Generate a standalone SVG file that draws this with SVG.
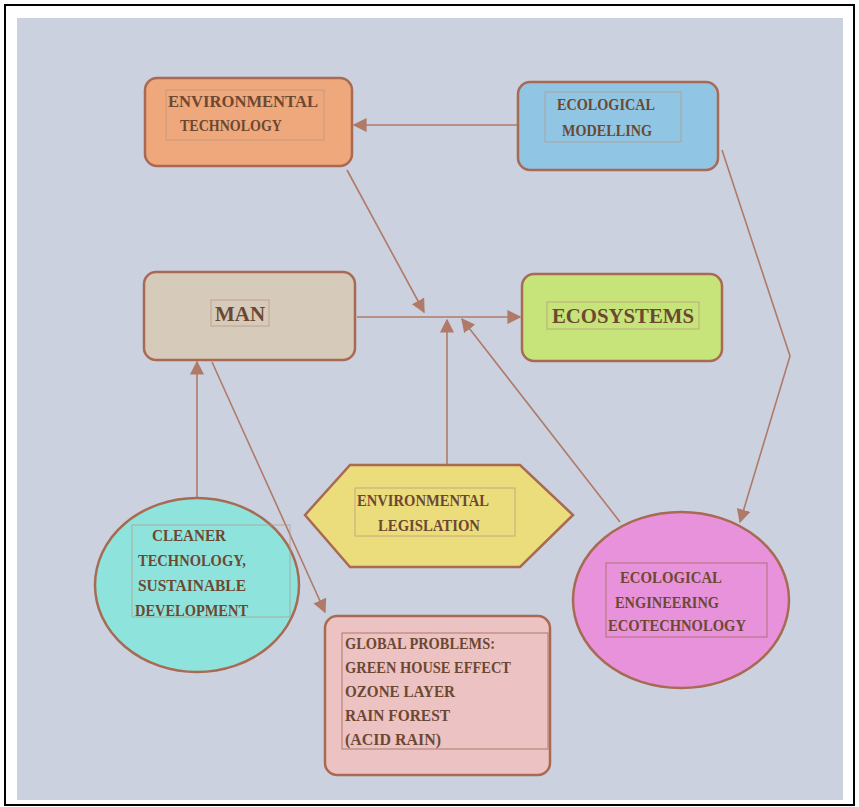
<svg xmlns="http://www.w3.org/2000/svg" width="859" height="807" viewBox="0 0 859 807">
<defs>
<marker id="ah" viewBox="0 0 10 10" refX="9" refY="5" markerWidth="14" markerHeight="14" markerUnits="userSpaceOnUse" orient="auto">
<path d="M0,0 L10,5 L0,10 z" fill="#b07a68"/>
</marker>
<style>
.bg{fill:#cbd1df}
.node{stroke:#a86a52;stroke-width:2.5}
.inner{fill:none;stroke:#b89480;stroke-width:1;opacity:0.7}
.t{font-family:"Liberation Serif","Times New Roman",serif;font-weight:bold;font-size:16px;fill:#6c4832}
.tb{font-family:"Liberation Serif","Times New Roman",serif;font-weight:bold;font-size:20px;fill:#6c4832}
.c{fill:none;stroke:#b07a68;stroke-width:1.6}
</style>
</defs>
<rect x="0" y="0" width="859" height="807" fill="#ffffff"/>
<rect x="5" y="5" width="849" height="800" fill="none" stroke="#000000" stroke-width="2"/>
<rect class="bg" x="17" y="18" width="826" height="782"/>

<g id="connectors">
<line class="c" x1="518" y1="125" x2="354" y2="125" marker-end="url(#ah)"/>
<line class="c" x1="347" y1="170" x2="424" y2="312" marker-end="url(#ah)"/>
<line class="c" x1="357" y1="317" x2="520" y2="317" marker-end="url(#ah)"/>
<line class="c" x1="447" y1="464" x2="447" y2="320" marker-end="url(#ah)"/>
<line class="c" x1="620" y1="522" x2="462" y2="319" marker-end="url(#ah)"/>
<polyline class="c" points="722,150 790,356 740,522" marker-end="url(#ah)"/>
<line class="c" x1="197" y1="498" x2="197" y2="362" marker-end="url(#ah)"/>
<line class="c" x1="212" y1="362" x2="325" y2="612" marker-end="url(#ah)"/>
</g>

<g id="env-tech">
<rect class="node" x="145" y="78" width="207" height="88" rx="12" fill="#eea87c"/>
<rect class="inner" x="166" y="90" width="158" height="50"/>
<text class="t" x="168" y="107" textLength="150" lengthAdjust="spacingAndGlyphs">ENVIRONMENTAL</text>
<text class="t" x="180" y="131" textLength="102" lengthAdjust="spacingAndGlyphs">TECHNOLOGY</text>
</g>

<g id="eco-modelling">
<rect class="node" x="518" y="82" width="200" height="88" rx="12" fill="#90c6e4"/>
<rect class="inner" x="545" y="92" width="136" height="50"/>
<text class="t" x="557" y="110" textLength="98" lengthAdjust="spacingAndGlyphs">ECOLOGICAL</text>
<text class="t" x="562" y="136" textLength="90" lengthAdjust="spacingAndGlyphs">MODELLING</text>
</g>

<g id="man">
<rect class="node" x="144" y="272" width="211" height="88" rx="12" fill="#d6cabb"/>
<rect class="inner" x="211" y="300" width="58" height="26"/>
<text class="tb" x="215" y="321" textLength="50" lengthAdjust="spacingAndGlyphs">MAN</text>
</g>

<g id="ecosystems">
<rect class="node" x="522" y="274" width="200" height="87" rx="12" fill="#c6e47a"/>
<rect class="inner" x="547" y="302" width="152" height="27"/>
<text class="tb" x="552" y="323" textLength="142" lengthAdjust="spacingAndGlyphs">ECOSYSTEMS</text>
</g>

<g id="legislation">
<polygon class="node" points="305,515 350,465 520,465 573,515 520,567 350,567" fill="#ebdc7c"/>
<rect class="inner" x="355" y="488" width="160" height="48"/>
<text class="t" x="357" y="506" textLength="132" lengthAdjust="spacingAndGlyphs">ENVIRONMENTAL</text>
<text class="t" x="378" y="531" textLength="102" lengthAdjust="spacingAndGlyphs">LEGISLATION</text>
</g>

<g id="cleaner-tech">
<ellipse class="node" cx="197" cy="585" rx="102" ry="87" fill="#8ee4dc"/>
<rect class="inner" x="132" y="525" width="158" height="92"/>
<text class="t" x="152" y="541" textLength="74" lengthAdjust="spacingAndGlyphs">CLEANER</text>
<text class="t" x="138" y="566" textLength="108" lengthAdjust="spacingAndGlyphs">TECHNOLOGY,</text>
<text class="t" x="138" y="591" textLength="108" lengthAdjust="spacingAndGlyphs">SUSTAINABLE</text>
<text class="t" x="135" y="616" textLength="113" lengthAdjust="spacingAndGlyphs">DEVELOPMENT</text>
</g>

<g id="eco-engineering">
<ellipse class="node" cx="681" cy="600" rx="108" ry="88" fill="#e892dc"/>
<rect class="inner" x="606" y="563" width="161" height="74" style="stroke:#a06a5a;opacity:0.8"/>
<text class="t" x="620" y="583" textLength="102" lengthAdjust="spacingAndGlyphs">ECOLOGICAL</text>
<text class="t" x="615" y="608" textLength="104" lengthAdjust="spacingAndGlyphs">ENGINEERING</text>
<text class="t" x="608" y="631" textLength="138" lengthAdjust="spacingAndGlyphs">ECOTECHNOLOGY</text>
</g>

<g id="global-problems">
<rect class="node" x="325" y="616" width="225" height="159" rx="12" fill="#ecc2c2"/>
<rect class="inner" x="342" y="633" width="206" height="116" style="stroke:#a06a5a;opacity:0.8"/>
<text class="t" x="345" y="649" textLength="150" lengthAdjust="spacingAndGlyphs">GLOBAL PROBLEMS:</text>
<text class="t" x="345" y="673" textLength="166" lengthAdjust="spacingAndGlyphs">GREEN HOUSE EFFECT</text>
<text class="t" x="345" y="697" textLength="110" lengthAdjust="spacingAndGlyphs">OZONE LAYER</text>
<text class="t" x="345" y="721" textLength="105" lengthAdjust="spacingAndGlyphs">RAIN FOREST</text>
<text class="t" x="345" y="745" textLength="96" lengthAdjust="spacingAndGlyphs">(ACID RAIN)</text>
</g>
</svg>
